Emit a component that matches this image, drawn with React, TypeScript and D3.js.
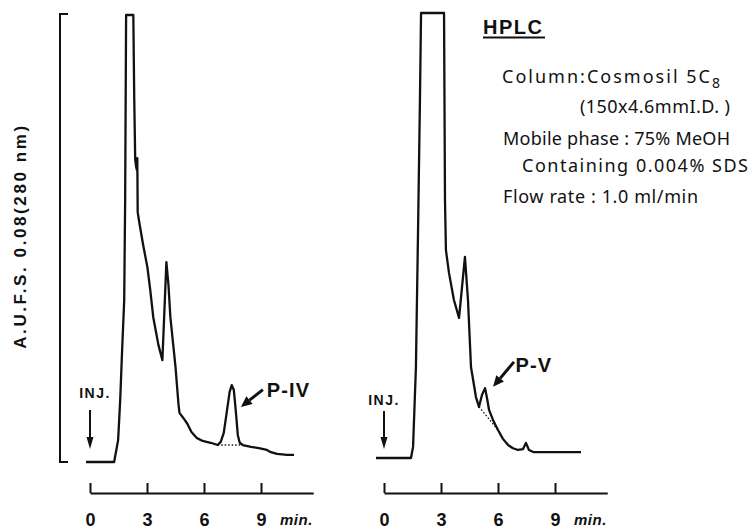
import React, { useEffect, useRef } from 'react';
import * as d3 from 'd3';

// [time (min), detector response (% of full scale, 100 = off scale)]
type Pt = [number, number];

const timeTicks = [0, 3, 6, 9];

const traceIV: Pt[] = [
  [-0.21, 0], [1.27, 0], [1.48, 4.9], [1.59, 13.9], [1.69, 25], [1.8, 36.2], [1.85, 58.6],
  [1.9, 100], [2.28, 100], [2.33, 81], [2.38, 67.6], [2.43, 66], [2.47, 65.3], [2.49, 68],
  [2.51, 55.9], [2.59, 53.7], [2.8, 48.5], [3.02, 43.6], [3.17, 38.5], [3.33, 32.4],
  [3.6, 26.2], [3.81, 22.8], [4.02, 44.7], [4.13, 39.6], [4.23, 32.4], [4.5, 21.3],
  [4.66, 12.8], [4.71, 11], [4.92, 9.8], [5.13, 8.5], [5.34, 6.7], [5.61, 5.4], [5.93, 4.7],
  [6.35, 4.3], [6.72, 3.8], [6.88, 4.5], [7.04, 6.5], [7.2, 11.2], [7.35, 15.7], [7.46, 17.2],
  [7.57, 16.1], [7.67, 11.6], [7.78, 6.0], [7.88, 4.3], [8.04, 3.8], [8.47, 3.4], [8.89, 3.1],
  [9.31, 2.7], [9.52, 2.2], [9.84, 1.8], [10.37, 1.6], [10.74, 1.6],
];
const baselineIV: Pt[] = [[6.72, 3.8], [8.04, 3.8]];

const traceV: Pt[] = [
  [-0.42, 0], [1.42, 0], [1.53, 2.5], [1.68, 20.4], [1.79, 50.6], [1.89, 80], [1.95, 100],
  [3.16, 100], [3.21, 58], [3.26, 46.7], [3.42, 41.6], [3.68, 35.5], [3.95, 31.5], [4.26, 45.2],
  [4.42, 35.5], [4.58, 20.4], [4.84, 13.7], [5.0, 11.5], [5.16, 14.2], [5.32, 15.7], [5.42, 13.5],
  [5.53, 10.8], [5.74, 8.5], [6.0, 6.3], [6.26, 4.3], [6.53, 2.9], [6.79, 2.2], [7.05, 1.8],
  [7.32, 2.0], [7.47, 3.4], [7.63, 1.8], [7.89, 1.3], [10.37, 1.3],
];
const baselineV: Pt[] = [[5.0, 11.5], [6.0, 6.3]];

const peakLabels = ['P-IV', 'P-V'];

const conditionLines = [
  'Column:Cosmosil  5C',
  '(150x4.6mmI.D. )',
  'Mobile phase : 75% MeOH',
  'Containing 0.004% SDS',
  'Flow rate : 1.0 ml/min',
];

const App: React.FC = () => {
  const svgRef = useRef<SVGSVGElement>(null);

  useEffect(() => {
    if (!svgRef.current) return;
    const svg = d3.select(svgRef.current);
    svg.selectAll('*').remove();

    const ink = '#111';
    const boldFont = '"Liberation Sans", Arial, sans-serif';
    const textFont = '"Noto Sans", "DejaVu Sans", sans-serif';

    function arrow(g: any, x1: number, y1: number, x2: number, y2: number, w: number, headLen: number, headW: number) {
      const a = Math.atan2(y2 - y1, x2 - x1);
      const bx = x2 - headLen * Math.cos(a);
      const by = y2 - headLen * Math.sin(a);
      g.append('line')
        .attr('x1', x1).attr('y1', y1).attr('x2', bx).attr('y2', by)
        .attr('stroke', ink).attr('stroke-width', w);
      const px = -Math.sin(a) * headW / 2;
      const py = Math.cos(a) * headW / 2;
      g.append('path')
        .attr('d', `M${x2},${y2}L${bx + px},${by + py}L${bx - px},${by - py}Z`)
        .attr('fill', ink);
    }

    const panels = [
      { trace: traceIV, dotted: baselineIV, label: peakLabels[0], x0: 90, zeroY: 462, fullY: 15,
        head: [7.94, 12.3] as Pt, tail: [9.1, 16.2] as Pt, labelAt: [9.3, 14.5] as Pt,
        injY: [398, 410, 449], injDx: 5 },
      { trace: traceV, dotted: baselineV, label: peakLabels[1], x0: 384, zeroY: 458, fullY: 13,
        head: [5.74, 16] as Pt, tail: [6.84, 21.6] as Pt, labelAt: [6.92, 19.3] as Pt,
        injY: [405, 411, 449], injDx: 0 },
    ];

    panels.forEach(p => {
      const x = d3.scaleLinear().domain([0, 9]).range([p.x0, p.x0 + 171]);
      const y = d3.scaleLinear().domain([0, 100]).range([p.zeroY, p.fullY]);
      const g = svg.append('g');

      const line = d3.line<Pt>().x(d => x(d[0])).y(d => y(d[1]));

      g.append('path')
        .datum(p.trace)
        .attr('d', line)
        .attr('fill', 'none')
        .attr('stroke', ink)
        .attr('stroke-width', 2.3)
        .attr('stroke-linejoin', 'round');

      g.append('path')
        .datum(p.dotted)
        .attr('d', line)
        .attr('fill', 'none')
        .attr('stroke', ink)
        .attr('stroke-width', 1.3)
        .attr('stroke-dasharray', '1.5,2');

      // time axis, ticks pointing up
      const axisX = x.copy().domain([0, 11.75]).range([p.x0, p.x0 + 11.75 * 19]);
      const axis = d3.axisBottom(axisX)
        .tickValues(timeTicks)
        .tickSize(-10)
        .tickSizeOuter(0)
        .tickPadding(20)
        .tickFormat(d3.format('d'));
      const ax = g.append('g')
        .attr('transform', `translate(0,493)`)
        .call(axis as any);
      ax.select('.domain').attr('stroke', ink).attr('stroke-width', 2);
      ax.selectAll('.tick line').attr('stroke', ink).attr('stroke-width', 2);
      ax.selectAll('.tick text')
        .attr('fill', ink)
        .attr('font-family', boldFont)
        .attr('font-weight', 'bold')
        .attr('font-size', 18);

      g.append('text')
        .attr('x', axisX(10))
        .attr('y', 525)
        .attr('font-family', boldFont)
        .attr('font-weight', 'bold')
        .attr('font-style', 'italic')
        .attr('font-size', 15)
        .attr('letter-spacing', 0.5)
        .attr('fill', ink)
        .text('min.');

      // injection mark
      g.append('text')
        .attr('x', x(0) + p.injDx)
        .attr('y', p.injY[0])
        .attr('text-anchor', 'middle')
        .attr('font-family', boldFont)
        .attr('font-weight', 'bold')
        .attr('font-size', 14)
        .attr('letter-spacing', 1.5)
        .attr('fill', ink)
        .text('INJ.');
      arrow(g, x(0), p.injY[1], x(0), p.injY[2], 2, 12, 7);

      // peak label and pointer
      arrow(g, x(p.tail[0]), y(p.tail[1]), x(p.head[0]), y(p.head[1]), 3, 11, 10);
      g.append('text')
        .attr('x', x(p.labelAt[0]))
        .attr('y', y(p.labelAt[1]))
        .attr('font-family', boldFont)
        .attr('font-weight', 'bold')
        .attr('font-size', 20)
        .attr('letter-spacing', 1.2)
        .attr('fill', ink)
        .text(p.label);
    });

    // full-scale bracket
    svg.append('path')
      .attr('d', 'M68,14H60V462H68')
      .attr('fill', 'none')
      .attr('stroke', ink)
      .attr('stroke-width', 2);

    svg.append('text')
      .attr('transform', 'translate(26,236) rotate(-90)')
      .attr('text-anchor', 'middle')
      .attr('font-family', boldFont)
      .attr('font-weight', 'bold')
      .attr('font-size', 17)
      .attr('letter-spacing', 2.6)
      .attr('fill', ink)
      .text('A.U.F.S. 0.08(280 nm)');

    // conditions block
    const info = svg.append('g');
    info.append('text')
      .attr('x', 483).attr('y', 34)
      .attr('font-family', boldFont)
      .attr('font-weight', 'bold')
      .attr('font-size', 20)
      .attr('letter-spacing', 1.5)
      .attr('fill', ink)
      .text('HPLC');
    info.append('line')
      .attr('x1', 483).attr('x2', 545).attr('y1', 37.5).attr('y2', 37.5)
      .attr('stroke', ink).attr('stroke-width', 2);

    const lineX = [502, 580, 503, 522, 503];
    const lineY = [83, 113, 145, 172, 203];
    const lineW = [218, 150, 227, 226, 195];
    conditionLines.forEach((t, i) => {
      const tx = info.append('text')
        .attr('x', lineX[i]).attr('y', lineY[i])
        .attr('font-family', textFont)
        .attr('font-size', 18)
        .attr('textLength', lineW[i])
        .attr('lengthAdjust', 'spacing')
        .attr('fill', ink)
        .text(t);
      if (i === 0) {
        tx.append('tspan').attr('dy', 5).attr('font-size', 14).text('8');
      }
    });
  }, []);

  return (
    <div style={{ position: 'absolute', left: 0, top: 0 }}>
      <svg ref={svgRef} width={752} height={531} style={{ display: 'block', background: '#fff' }} />
    </div>
  );
};

export default App;
